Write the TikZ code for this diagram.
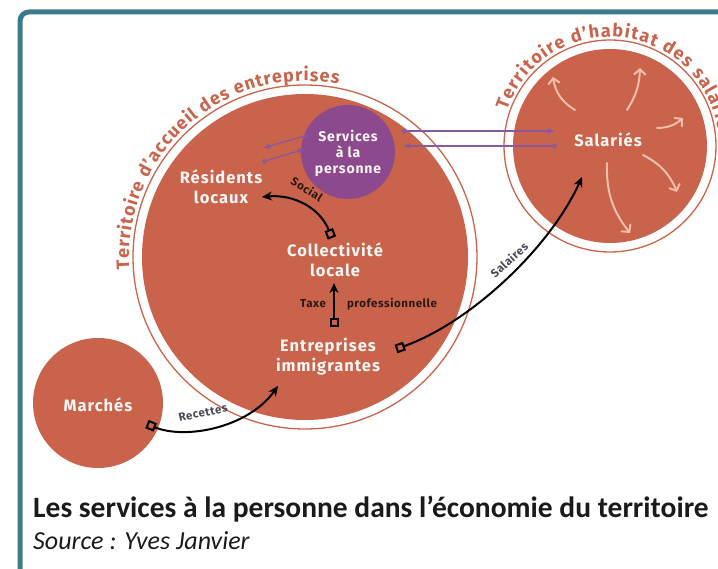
\documentclass[tikz,border=0pt]{standalone}
\usepackage{fontspec}
\setmainfont{Fira Sans}
\newfontfamily\labfont[LetterSpace=6]{Fira Sans}
\newfontfamily\smallfont[LetterSpace=5]{Fira Sans}
\newfontfamily\capfont{Carlito}
\usetikzlibrary{arrows.meta,decorations.text}
\definecolor{terra}{RGB}{201,99,76}
\definecolor{plum}{RGB}{140,73,141}
\definecolor{plumline}{RGB}{138,88,156}
\definecolor{peach}{RGB}{243,190,168}
\definecolor{framecol}{RGB}{59,123,142}
\definecolor{labeldark}{RGB}{45,25,20}
\definecolor{salgray}{RGB}{70,74,88}
\definecolor{captext}{RGB}{26,26,26}
\tikzset{
  disc/.style={circle, fill=terra, inner sep=0pt},
  ring/.style={circle, draw=terra, line width=1.3pt, inner sep=0pt},
  biglabel/.style={text=white!94!terra, align=center, font=\labfont\fontsize{16.5}{20}\selectfont\bfseries, inner sep=0pt},
  smalllabel/.style={font=\smallfont\fontsize{11.5}{13}\selectfont\bfseries, inner sep=0pt},
  purplearrow/.style={draw=plumline, line width=1.3pt, {Circle[open,length=5pt,width=5pt]}-{Latex[length=7pt,width=6pt]}},
  blackarrow/.style={draw=black, line width=2pt, {Square[open,length=9pt,width=9pt]}-{Stealth[length=10pt,width=9pt]}},
  palearrow/.style={draw=peach, line width=2pt, line cap=round, -{Straight Barb[length=5pt,width=11pt,line cap=round]}}
}
\begin{document}
\begin{tikzpicture}[x=1pt,y=1pt]
\useasboundingbox (0,0) rectangle (718,568);
\begin{scope}
\clip (0,0) rectangle (718,568);
% frame
\draw[framecol, line width=5pt, rounded corners=9pt] (20,-10) -- (20,556) -- (740,556);

% big territory
\node[ring, minimum size=344pt] (accueilring) at (305,311) {};
\node[disc, minimum size=326pt] (accueil) at (305,311) {};
\path[decorate, decoration={text along path, text align=fit to path,
  text={|\fontsize{18}{18}\selectfont\bfseries\color{terra}|Territoire d'accueil des entreprises}}]
  (305,311) ++(184:176) arc[start angle=184, end angle=79, radius=176];

% salaries territory
\node[ring, minimum size=212pt] (habitatring) at (610,422) {};
\node[disc, minimum size=194pt] (habitat) at (610,422) {};
\path[decorate, decoration={text along path, text align=fit to path,
  text={|\fontsize{18}{18}\selectfont\bfseries\color{terra}|Territoire d'habitat des salariés}}]
  (610,422) ++(161:109) arc[start angle=161, end angle=3, radius=109];

% services
\node[circle, fill=plum, minimum size=94pt, inner sep=0pt] (servdisc) at (348,416) {};
\node[biglabel, font=\labfont\fontsize{14}{16}\selectfont\bfseries] (services) at (348,415) {Services\\à la\\personne};

% marches
\node[disc, minimum size=130pt] (marchesdisc) at (98,165) {};
\node[biglabel] (marches) at (98,163) {Marchés};

% labels
\node[biglabel] (residents) at (221,381) {Résidents\\locaux};
\node[biglabel] (collectivite) at (335,308) {Collectivité\\locale};
\node[biglabel] (entreprises) at (328,211) {Entreprises\\immigrantes};
\node[biglabel] (salaries) at (608,428) {Salariés};

% purple arrows
\coordinate (p1s) at (308,433); \coordinate (p1e) at (263,420);
\coordinate (p2s) at (262,406); \coordinate (p2e) at (305,419);
\coordinate (p3s) at (402,437); \coordinate (p3e) at (555,437);
\coordinate (p4s) at (557,422); \coordinate (p4e) at (403,422);
\draw[purplearrow] (p1s) -- (p1e);
\draw[purplearrow] (p2s) -- (p2e);
\draw[purplearrow] (p3s) -- (p3e);
\draw[purplearrow] (p4s) -- (p4e);

% black arrows
\coordinate (soc1) at (332,330); \coordinate (soc2) at (262,371);
\draw[blackarrow] (soc1) .. controls (320,360) and (294,374) .. (soc2);
\node[smalllabel, rotate=-32, text=labeldark] (social) at (307,379) {Social};

\coordinate (tax1) at (334,241); \coordinate (tax2) at (334,285);
\draw[blackarrow] (tax1) -- (tax2);
\node[smalllabel, text=labeldark] (taxe) at (313,264) {Taxe};
\node[smalllabel, text=labeldark] (prof) at (392,264) {professionnelle};

\coordinate (sal1) at (396,219); \coordinate (sal2) at (582,391);
\draw[blackarrow] (sal1) .. controls (470,245) and (550,320) .. (sal2);
\node[smalllabel, rotate=42, text=salgray] (salaires) at (509,308) {Salaires};

\coordinate (rec1) at (147,144); \coordinate (rec2) at (278,182);
\draw[blackarrow] (rec1) .. controls (185,128) and (248,140) .. (rec2);
\node[smalllabel, rotate=12, text=salgray] (recettes) at (203,155) {Recettes};

% pale arrows in habitat
\coordinate (a1s) at (575,458); \coordinate (a1e) at (553,491);
\coordinate (a2s) at (627,458); \coordinate (a2e) at (640,500);
\coordinate (a3s) at (657,440); \coordinate (a3e) at (683,450);
\coordinate (a4s) at (643,413); \coordinate (a4e) at (677,376);
\coordinate (a5s) at (607,405); \coordinate (a5e) at (630,335);
\draw[palearrow] (a1s) to[bend left=25] (a1e);
\draw[palearrow] (a2s) to[bend right=15] (a2e);
\draw[palearrow] (a3s) to[bend right=20] (a3e);
\draw[palearrow] (a4s) to[bend left=20] (a4e);
\draw[palearrow] (a5s) to[bend right=20] (a5e);

% caption
\node[anchor=base west, inner sep=0pt, text=captext, font=\capfont\bfseries\fontsize{29.5}{31}\selectfont] (title) at (33,50) {Les services à la personne dans l’économie du territoire};
\node[anchor=base west, inner sep=0pt, text=captext, font=\capfont\itshape\fontsize{26}{28}\selectfont] (source) at (33,19) {Source : Yves Janvier};
\end{scope}
\end{tikzpicture}
\end{document}
